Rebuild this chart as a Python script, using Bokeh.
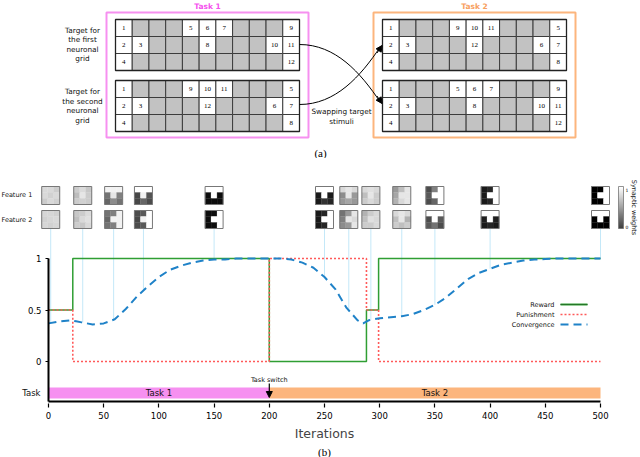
import numpy as np
from bokeh.plotting import figure
from bokeh.models import Range1d, LinearAxis, FixedTicker, Arrow, NormalHead
from bokeh.layouts import column
from bokeh.core.properties import value
from bokeh.embed import file_html
from bokeh.resources import INLINE

# ------------------------------------------------------------------ data
step_iters = [0, 22, 22, 200, 200, 288, 288, 299, 299, 500]
reward = [0.5, 0.5, 1, 1, 0, 0, 0.5, 0.5, 1, 1]
punishment = [0.5, 0.5, 0, 0, 1, 1, 0.5, 0.5, 0, 0]

conv_iters = [0, 10, 20, 25, 30, 40, 50, 60, 70, 80, 90, 100, 110, 120, 130, 140, 150, 160,
              170, 180, 190, 200, 210, 220, 230, 240, 250, 260, 270, 280, 285, 290, 300, 310,
              320, 330, 340, 350, 360, 370, 380, 390, 400, 410, 420, 430, 440, 450, 460, 480, 500]
convergence = [0.37, 0.39, 0.40, 0.39, 0.38, 0.36, 0.37, 0.41, 0.51, 0.63, 0.73, 0.82, 0.89,
               0.93, 0.96, 0.98, 0.99, 0.99, 1.0, 1.0, 1.0, 1.0, 1.0, 0.99, 0.96, 0.91, 0.82,
               0.70, 0.52, 0.40, 0.37, 0.40, 0.42, 0.43, 0.44, 0.46, 0.50, 0.55, 0.62, 0.71,
               0.80, 0.86, 0.90, 0.94, 0.96, 0.98, 0.99, 0.995, 1.0, 1.0, 1.0]

x_ticks = [0, 50, 100, 150, 200, 250, 300, 350, 400, 450, 500]
y_ticks = [0, 0.5, 1]
task_names = ["Task 1", "Task 2"]
task_start = [0, 200]
task_end = [200, 500]
task_switch = 200

feature_iters = [2, 31, 59, 86, 150, 250, 272, 292, 320, 350, 400, 500]
# 3x3 synaptic weight maps (row 0 = top), 1 = white, 0 = black
feature1 = [
    [[.85, .85, .80], [.85, .82, .85], [.80, .85, .82]],
    [[.80, .86, .78], [.74, .90, .80], [.80, .82, .80]],
    [[.95, .95, .95], [.45, .90, .50], [.40, .55, .45]],
    [[1.0, 1.0, 1.0], [.28, .95, .33], [.28, .40, .30]],
    [[1.0, 1.0, 1.0], [.05, 1.0, .05], [.05, .05, .05]],
    [[1.0, 1.0, 1.0], [.10, 1.0, .10], [.10, .20, .15]],
    [[.85, .90, .85], [.55, .90, .60], [.60, .65, .60]],
    [[.85, .88, .85], [.75, .90, .80], [.80, .85, .80]],
    [[.60, .75, .90], [.65, .90, .90], [.70, .85, .90]],
    [[.30, .50, 1.0], [.35, 1.0, 1.0], [.30, .40, 1.0]],
    [[.10, .15, 1.0], [.10, 1.0, 1.0], [.10, .15, 1.0]],
    [[.0, .0, 1.0], [.0, 1.0, 1.0], [.0, .0, 1.0]],
]
feature2 = [
    [[.84, .84, .82], [.82, .84, .85], [.84, .82, .84]],
    [[.78, .80, .86], [.75, .85, .88], [.80, .78, .85]],
    [[.45, .50, .95], [.40, .95, .95], [.45, .50, .95]],
    [[.30, .35, 1.0], [.28, .95, 1.0], [.30, .35, 1.0]],
    [[.05, .05, 1.0], [.05, 1.0, 1.0], [.05, .05, 1.0]],
    [[.10, .15, 1.0], [.10, 1.0, 1.0], [.10, .15, 1.0]],
    [[.45, .60, .90], [.50, .90, .85], [.55, .60, .90]],
    [[.70, .80, .85], [.75, .88, .85], [.80, .80, .85]],
    [[.85, .90, .85], [.75, .90, .70], [.80, .75, .80]],
    [[1.0, 1.0, 1.0], [.30, 1.0, .35], [.35, .45, .30]],
    [[1.0, 1.0, 1.0], [.12, 1.0, .12], [.10, .15, .10]],
    [[1.0, 1.0, 1.0], [.0, 1.0, .0], [.0, .0, .0]],
]

grid_rows, grid_cols = 3, 11
# (row, col, target stimulus number)
first_target = [(0, 0, 1), (0, 4, 5), (0, 5, 6), (0, 6, 7), (0, 10, 9),
                (1, 0, 2), (1, 1, 3), (1, 5, 8), (1, 9, 10), (1, 10, 11),
                (2, 0, 4), (2, 10, 12)]
second_target = [(0, 0, 1), (0, 4, 9), (0, 5, 10), (0, 6, 11), (0, 10, 5),
                 (1, 0, 2), (1, 1, 3), (1, 5, 12), (1, 9, 6), (1, 10, 7),
                 (2, 0, 4), (2, 10, 8)]

PINK = "#f690f0"
ORANGE = "#fcb57d"
SANS = value("DejaVu Sans")
SERIF = value("Liberation Serif")


def grey(v):
    g = int(round(max(0.0, min(1.0, v)) * 255))
    return "#%02x%02x%02x" % (g, g, g)


# ------------------------------------------------------------------ (a)
pa = figure(width=640, height=158, x_range=Range1d(0, 640), y_range=Range1d(158, 0),
            x_axis_type=None, y_axis_type=None, toolbar_location=None,
            output_backend="svg", min_border=0)
pa.outline_line_color = None

GW, GH = 184.0, 51.0
CW, CH = GW / grid_cols, GH / grid_rows


def draw_grid(p, x0, y0, cells):
    numbered = {(r, c): n for r, c, n in cells}
    xs, ys, fills = [], [], []
    for r in range(grid_rows):
        for c in range(grid_cols):
            xs.append(x0 + (c + 0.5) * CW)
            ys.append(y0 + (r + 0.5) * CH)
            fills.append("white" if (r, c) in numbered else "#c2c2c2")
    p.rect(xs, ys, width=CW, height=CH, fill_color=fills, line_color="#3c3c3c", line_width=1)
    p.rect([x0 + GW / 2], [y0 + GH / 2], width=GW, height=GH, fill_color=None,
           line_color="#222222", line_width=1.3)
    p.text([x0 + (c + 0.5) * CW for r, c, n in cells],
           [y0 + (r + 0.5) * CH for r, c, n in cells],
           text=[str(n) for r, c, n in cells], text_font=SERIF, text_font_size="7px",
           text_align="center", text_baseline="middle", text_color="black")


# task boxes
pa.rect([207, 474], [74.5, 74.5], width=202, height=125, fill_color=None,
        line_color=[PINK, ORANGE], line_width=2)
pa.text([207, 474], [5.5, 5.5], text=task_names, text_font=SANS, text_font_style="bold",
        text_font_size="7.5px", text_color=["#f550ee", "#f7a060"], text_align="center",
        text_baseline="middle")

draw_grid(pa, 115, 19, first_target)
draw_grid(pa, 115, 80, second_target)
draw_grid(pa, 382, 19, second_target)
draw_grid(pa, 382, 80, first_target)

pa.text([82, 82], [43.8, 105.5],
        text=["Target for\nthe first\nneuronal\ngrid", "Target for\nthe second\nneuronal\ngrid"],
        text_font=SANS, text_font_size="7.3px", text_align="center", text_baseline="middle",
        text_line_height=1.05, text_color="#111111")

pa.bezier(x0=[299, 299], y0=[44, 104], x1=[380, 380], y1=[102, 46],
          cx0=[335, 335], cy0=[44, 104], cx1=[360, 360], cy1=[72, 76],
          line_color="black", line_width=1)
for ys, ye in [(95.5, 103.0), (52.5, 45.0)]:
    pa.add_layout(Arrow(end=NormalHead(size=6, fill_color="black", line_color="black"),
                        x_start=376.5, y_start=ys, x_end=381.5, y_end=ye,
                        line_color="black", line_width=1))
pa.text([341], [116], text=["Swapping target\nstimuli"], text_font=SANS, text_font_size="7.3px",
        text_align="center", text_baseline="middle", text_line_height=1.05, text_color="#111111")
pa.text([320], [152], text=["(a)"], text_font=SERIF, text_font_size="11px",
        text_align="center", text_baseline="middle")

# ------------------------------------------------------------------ (b)
def X(px):
    return (px - 48) / 1.104


def Y(py):
    return (361 - py) / 103.0


pb = figure(width=640, height=299, x_range=Range1d(X(0), X(640)), y_range=Range1d(Y(457), Y(158)),
            x_axis_type=None, y_axis_type=None, toolbar_location=None,
            output_backend="svg", min_border=0)
pb.outline_line_color = None

x_axis_y = Y(401)
xaxis = LinearAxis(fixed_location=x_axis_y, bounds=(0, 500), ticker=FixedTicker(ticks=x_ticks),
                   axis_label="Iterations")
yaxis = LinearAxis(fixed_location=0, bounds=(x_axis_y, 1), ticker=FixedTicker(ticks=y_ticks),
                   major_label_overrides={0: "0", 0.5: "0.5", 1: "1"})
for ax in (xaxis, yaxis):
    ax.axis_line_width = 2
    ax.axis_line_color = "black"
    ax.minor_tick_line_color = None
    ax.major_tick_line_color = "black"
    ax.major_label_text_font = "DejaVu Sans"
    ax.major_label_text_font_size = "8.5px"
    ax.major_label_text_color = "black"
xaxis.major_tick_in = -2
xaxis.major_tick_out = 6
xaxis.major_tick_line_width = 1.2
xaxis.major_label_standoff = 4
xaxis.axis_label_text_font = "DejaVu Sans"
xaxis.axis_label_text_font_size = "12.5px"
xaxis.axis_label_text_font_style = "normal"
xaxis.axis_label_standoff = 4
yaxis.major_tick_in = 0
yaxis.major_tick_out = 3
yaxis.major_label_standoff = 4
pb.add_layout(xaxis, "below")
pb.add_layout(yaxis, "left")

# light-blue connectors from weight maps to convergence curve
img_w, img_h = 18 / 1.104, 18 / 103.0
f1_bottom, f2_bottom = Y(204), Y(228)
conn_end = np.interp(feature_iters, conv_iters, convergence)
pb.segment(x0=feature_iters, y0=[f2_bottom] * len(feature_iters), x1=feature_iters, y1=conn_end,
           line_color="#c4e8f8", line_width=1)

# series
pb.line(step_iters, reward, line_color="#2f9e33", line_width=1.5)
pb.line(step_iters, punishment, line_color="#ff5a5a", line_width=1.6, line_dash="2 2")
pb.line(conv_iters, convergence, line_color="#1f82c8", line_width=2, line_dash="8 5")

# weight maps, drawn cell by cell (row 0 at the top)
cl, cr, cb, ct, cc = [], [], [], [], []
frame_x, frame_y = [], []
for it, a1, a2 in zip(feature_iters, feature1, feature2):
    for arr, bottom in ((a1, f1_bottom), (a2, f2_bottom)):
        left = it - img_w / 2
        top = bottom + img_h
        frame_x.append(it)
        frame_y.append(bottom + img_h / 2)
        for r in range(3):
            for c in range(3):
                cl.append(left + c * img_w / 3)
                cr.append(left + (c + 1) * img_w / 3)
                ct.append(top - r * img_h / 3)
                cb.append(top - (r + 1) * img_h / 3)
                cc.append(grey(arr[r][c]))
pb.quad(left=cl, right=cr, bottom=cb, top=ct, fill_color=cc, line_color=cc, line_width=0.3)
pb.rect(x=frame_x, y=frame_y, width=img_w, height=img_h, fill_color=None,
        line_color="#777777", line_width=1)

pb.text([X(1), X(1)], [Y(194.5), Y(219)], text=["Feature 1", "Feature 2"], text_font=SANS,
        text_font_size="6.5px", text_align="left", text_baseline="middle", text_color="#111111")

# colour bar (white at top, black at bottom)
n_steps = 42
bar_bot, bar_h = Y(228), 42 / 103.0
pb.quad(left=[X(618)] * n_steps, right=[X(623)] * n_steps,
        bottom=[bar_bot + k * bar_h / n_steps for k in range(n_steps)],
        top=[bar_bot + (k + 1) * bar_h / n_steps for k in range(n_steps)],
        fill_color=[grey(k / (n_steps - 1)) for k in range(n_steps)], line_color=None)
pb.rect(x=[X(620.5)], y=[Y(207)], width=5 / 1.104, height=bar_h, fill_color=None,
        line_color="#777777", line_width=0.8)
pb.text([X(625), X(625)], [Y(189), Y(226)], text=["1", "0"], text_font=SANS, text_font_size="4.5px",
        text_align="left", text_baseline="middle")
pb.text([X(633)], [Y(207)], text=["Synaptic weights"], angle=-np.pi / 2, text_font=SANS,
        text_font_size="6.5px", text_align="center", text_baseline="middle", text_color="#111111")

# legend (label left of sample)
leg_y = [Y(304), Y(314), Y(324)]
pb.text([X(554)] * 3, leg_y, text=["Reward", "Punishment", "Convergence"], text_font=SANS,
        text_font_size="6.5px", text_align="right", text_baseline="middle", text_color="#111111")
lx = [X(560), X(587)]
pb.line(lx, [leg_y[0]] * 2, line_color="#2f9e33", line_width=2)
pb.line(lx, [leg_y[0]] * 2, line_color="#1a3a1a", line_width=0.8, line_dash="1 1")
pb.line(lx, [leg_y[1]] * 2, line_color="#ff5a5a", line_width=1.6, line_dash="2 2")
pb.line(lx, [leg_y[2]] * 2, line_color="#1f82c8", line_width=2, line_dash="8 5")

# task bar
pb.quad(left=task_start, right=task_end, top=Y(387), bottom=Y(398), fill_color=[PINK, ORANGE],
        line_color=None)
pb.text([(s + e) / 2 for s, e in zip(task_start, task_end)], [Y(392.5)] * 2, text=task_names,
        text_font=SANS, text_font_size="8.5px", text_align="center", text_baseline="middle",
        text_color="#111111")
pb.text([X(40)], [Y(392.5)], text=["Task"], text_font=SANS, text_font_size="8.5px",
        text_align="right", text_baseline="middle", text_color="#111111")
pb.text([task_switch], [Y(379)], text=["Task switch"], text_font=SANS, text_font_size="6.5px",
        text_align="center", text_baseline="middle", text_color="#111111")
pb.add_layout(Arrow(end=NormalHead(size=6, fill_color="black", line_color="black"),
                    x_start=task_switch, y_start=Y(383), x_end=task_switch, y_end=Y(397),
                    line_color="black", line_width=1.2))

pb.text([250], [Y(451)], text=["(b)"], text_font=SERIF, text_font_size="11px",
        text_align="center", text_baseline="middle")

layout = column(pa, pb)
open("out.html", "w").write(file_html(layout, INLINE))
